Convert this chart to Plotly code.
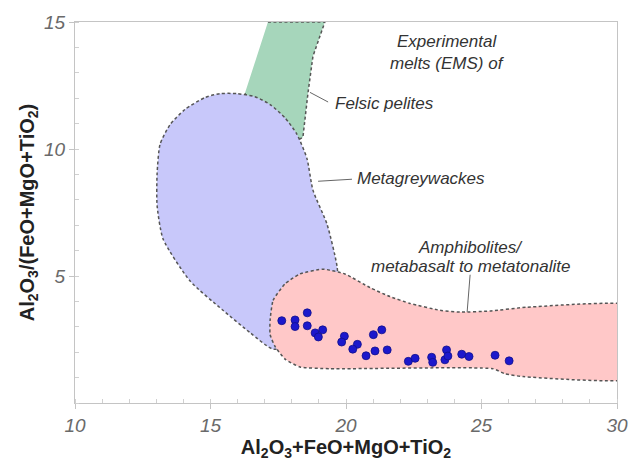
import plotly.graph_objects as go

# ---- data ----
sample_x = [17.63, 18.12, 18.12, 18.57, 18.57, 18.86, 18.98, 19.14, 19.94, 19.84,
            20.42, 20.25, 20.74, 21.07, 21.52, 21.01, 21.32, 22.30, 22.55, 23.16,
            23.20, 23.71, 23.65, 23.76, 24.27, 24.54, 25.50, 26.02]
sample_y = [3.24, 3.27, 3.01, 3.55, 3.04, 2.76, 2.60, 2.88, 2.63, 2.40,
            2.31, 2.12, 1.86, 2.05, 2.09, 2.69, 2.88, 1.64, 1.76, 1.80,
            1.60, 2.09, 1.70, 1.85, 1.92, 1.83, 1.88, 1.66]

felsic_x = [17.12, 19.22, 18.78, 18.60, 18.41, 17.60, 16.27]
felsic_y = [15.0, 15.0, 13.65, 12.23, 10.46, 10.0, 12.19]

greywacke_x = [15.98, 16.64, 17.20, 17.75, 18.19, 18.56, 18.78, 19.30, 19.67, 19.70,
               19.41, 18.30, 17.31, 16.46, 15.46, 14.24, 13.25, 13.03, 13.03, 13.14,
               13.51, 14.06, 14.80, 15.35, 15.98]
greywacke_y = [12.18, 12.06, 11.75, 11.23, 10.58, 9.62, 8.38, 7.04, 5.38, 4.62,
               3.27, 2.31, 2.12, 2.77, 3.65, 4.81, 6.46, 7.77, 9.04, 10.19,
               10.96, 11.56, 12.03, 12.18, 12.18]

amphib_x = [17.20, 17.31, 17.75, 18.30, 19.15, 19.96, 20.89, 21.62, 22.36, 23.47,
            24.21, 25.31, 26.68, 31.22, 31.22, 26.53, 25.87, 25.42, 19.41, 18.30,
            17.75, 17.38, 17.20, 17.20]
amphib_y = [3.27, 4.04, 4.69, 5.08, 5.27, 5.08, 4.54, 4.19, 3.92, 3.65,
            3.58, 3.62, 3.77, 3.77, 1.04, 1.04, 1.15, 1.35, 1.35, 1.42,
            1.73, 2.23, 2.69, 3.27]

x_ticks = [10, 15, 20, 25, 30]
y_ticks = [5, 10, 15]

labels = ["Experimental", "melts (EMS) of", "Felsic pelites", "Metagreywackes",
          "Amphibolites/", "metabasalt to metatonalite"]
label_x = [23.73, 23.73, 19.52, 20.33, 24.58, 24.61]
label_y = [14.23, 13.38, 11.78, 8.85, 6.14, 5.36]
label_anchor = ["center", "center", "left", "left", "center", "center"]

leader_x0 = [18.67, 18.97, 24.58]
leader_y0 = [12.23, 8.73, 5.05]
leader_x1 = [19.34, 20.22, 24.47]
leader_y1 = [11.85, 8.81, 3.58]

# ---- figure ----
outline = dict(color="#555555", width=1.5, dash="3px,2.5px")
fig = go.Figure()
fig.add_trace(go.Scatter(x=felsic_x, y=felsic_y, fill="toself", fillcolor="#a6d6bb",
                         mode="lines", line=outline, hoverinfo="skip"))
fig.add_trace(go.Scatter(x=greywacke_x, y=greywacke_y, fill="toself", fillcolor="#c8c8fa",
                         mode="lines", line=dict(outline, shape="spline", smoothing=0.6),
                         hoverinfo="skip"))
fig.add_trace(go.Scatter(x=amphib_x, y=amphib_y, fill="toself", fillcolor="#ffc8c8",
                         mode="lines", line=dict(outline, shape="spline", smoothing=0.5),
                         hoverinfo="skip"))
fig.add_trace(go.Scatter(x=sample_x, y=sample_y, mode="markers",
                         marker=dict(size=8, color="#1c18cc",
                                     line=dict(width=0.8, color="#10108a"))))

for x0, y0, x1, y1 in zip(leader_x0, leader_y0, leader_x1, leader_y1):
    fig.add_shape(type="line", x0=x0, y0=y0, x1=x1, y1=y1,
                  line=dict(color="#666666", width=1))

for t, x, y, a in zip(labels, label_x, label_y, label_anchor):
    fig.add_annotation(x=x, y=y, text=t, showarrow=False, xanchor=a, align="center",
                       font=dict(family="Liberation Sans, Arial", size=17,
                                 color="#333333", style="italic"))

axis_common = dict(showline=True, linecolor="#c4c4c4", linewidth=1, mirror=True,
                   showgrid=False, zeroline=False, ticks="outside", ticklen=5,
                   tickcolor="#c4c4c4",
                   tickfont=dict(family="Liberation Sans, Arial", size=19,
                                 color="#6a6a6a", style="italic"))

fig.update_layout(
    width=641, height=466,
    margin=dict(l=75, r=24, t=15, b=61),
    paper_bgcolor="white", plot_bgcolor="white",
    showlegend=False,
    xaxis=dict(axis_common, range=[10, 30], tickvals=x_ticks,
               minor=dict(dtick=1, ticks="inside", ticklen=4, tickcolor="#d0d0d0"),
               title=dict(text="Al<sub>2</sub>O<sub>3</sub>+FeO+MgO+TiO<sub>2</sub>",
                          standoff=4,
                          font=dict(family="Liberation Sans, Arial", size=20,
                                    color="#222222", weight="bold"))),
    yaxis=dict(axis_common, range=[0, 15], tickvals=y_ticks,
               minor=dict(dtick=1, ticks="inside", ticklen=4, tickcolor="#d0d0d0"),
               title=dict(text="Al<sub>2</sub>O<sub>3</sub>/(FeO+MgO+TiO<sub>2</sub>)",
                          standoff=4,
                          font=dict(family="Liberation Sans, Arial", size=20,
                                    color="#222222", weight="bold"))),
)

fig.write_html("out.html")
